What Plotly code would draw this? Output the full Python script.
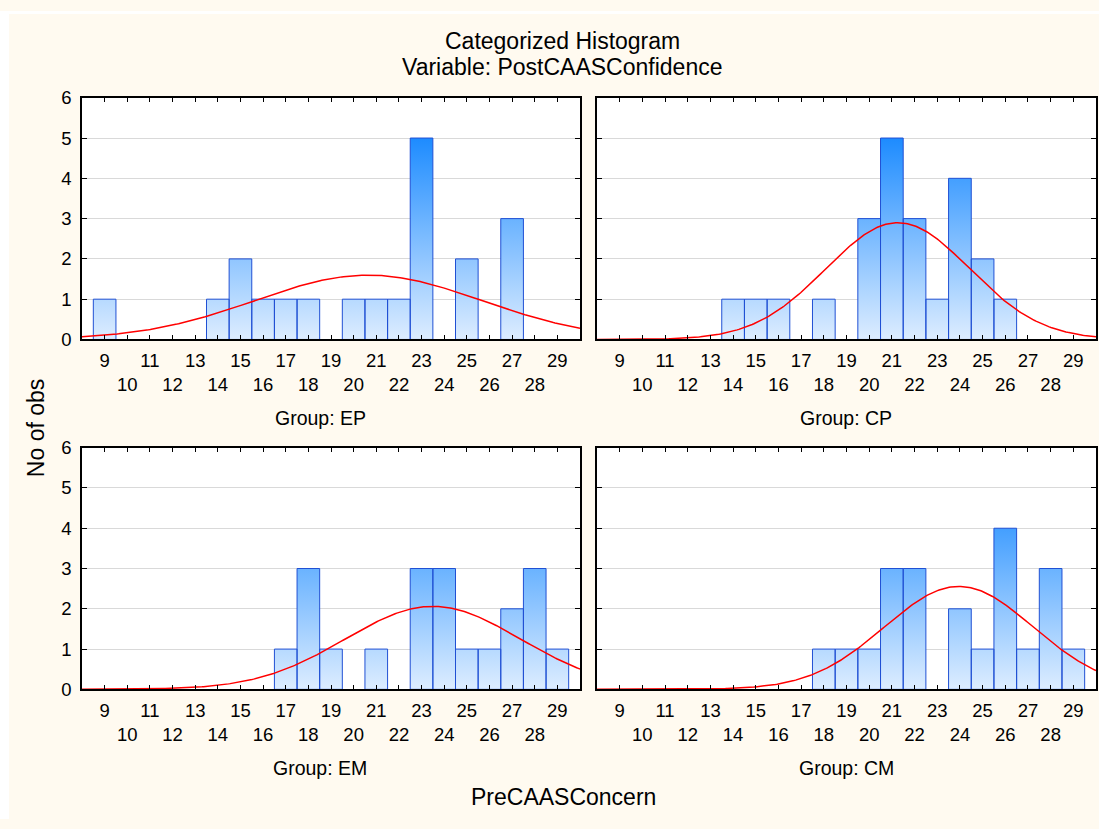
import numpy as np
import plotly.graph_objects as go

# ---------------- data ----------------
bins = list(range(9, 30))  # histogram bin centres (PreCAASConcern)
ep_counts = [1, 0, 0, 0, 0, 1, 2, 1, 1, 1, 0, 1, 1, 1, 5, 0, 2, 0, 3, 0, 0]
cp_counts = [0, 0, 0, 0, 0, 1, 1, 1, 0, 1, 0, 3, 5, 3, 1, 4, 2, 1, 0, 0, 0]
em_counts = [0, 0, 0, 0, 0, 0, 0, 0, 1, 3, 1, 0, 1, 0, 3, 3, 1, 1, 2, 3, 1]
cm_counts = [0, 0, 0, 0, 0, 0, 0, 0, 0, 1, 1, 1, 3, 3, 0, 2, 1, 4, 1, 3, 1]
group_names = ["EP", "CP", "EM", "CM"]
x_ticks = list(range(9, 30))
y_ticks = [0, 1, 2, 3, 4, 5, 6]

W, H = 1099, 829
def px(x):
    return x / W
def py(y):
    return 1 - y / H

BG = "#FFFAF0"
FONT = "Liberation Sans, Arial, sans-serif"

panels = [
    # counts, x-domain px, y-domain px (top, bottom), label pos
    (ep_counts, (82, 580), (89, 337), (320, 418), True),
    (cp_counts, (597, 1096), (89, 337), (846, 418), False),
    (em_counts, (82, 580), (448, 696), (320, 777), True),
    (cm_counts, (597, 1096), (448, 696), (846, 777), False),
]

ticktext = [str(v) if v % 2 == 1 else "<br>" + str(v) for v in x_ticks]

fig = go.Figure()
layout_axes = {}
annotations = []

for i, (counts, xd, yd, lab, show_y) in enumerate(panels):
    k = "" if i == 0 else str(i + 1)
    xa, ya = "x" + k, "y" + k

    # bars as closed polygons (gradient fill)
    bx, by = [], []
    for v, c in zip(bins, counts):
        if c > 0:
            bx += [v - 0.5, v - 0.5, v + 0.5, v + 0.5, v - 0.5, None]
            by += [0, c, c, 0, 0, None]
    fig.add_trace(go.Scatter(
        x=bx, y=by, xaxis=xa, yaxis=ya, mode="lines", fill="toself",
        line=dict(color="#2050D4", width=1),
        fillgradient=dict(type="vertical",
                          colorscale=[[0, "#E3F0FF"], [1, "#1E8CFF"]],
                          start=0, stop=5),
        hoverinfo="skip", showlegend=False))

    # fitted normal curve from the counts
    vals = np.repeat(bins, counts)
    n = len(vals)
    mu = vals.mean()
    sd = vals.std(ddof=1)
    xs = np.linspace(8, 30, 300)
    ys = n * 1.0 / (sd * np.sqrt(2 * np.pi)) * np.exp(-0.5 * ((xs - mu) / sd) ** 2)
    fig.add_trace(go.Scatter(
        x=xs, y=ys, xaxis=xa, yaxis=ya, mode="lines",
        line=dict(color="#FF0000", width=1.5), hoverinfo="skip",
        showlegend=False))

    layout_axes["xaxis" + k] = dict(
        domain=[px(xd[0]), px(xd[1])], range=[8, 30], anchor=ya,
        tickmode="array", tickvals=x_ticks, ticktext=ticktext,
        ticks="inside", ticklen=5, tickwidth=1, tickcolor="black",
        showline=True, linecolor="black", linewidth=1.5, mirror="ticks",
        showgrid=False, zeroline=False, tickangle=0,
        tickfont=dict(family=FONT, size=18.5, color="black"),
        ticklabelstandoff=4, fixedrange=True)
    layout_axes["yaxis" + k] = dict(
        domain=[py(yd[1]), py(yd[0])], range=[0, 6], anchor=xa,
        tickmode="array", tickvals=y_ticks,
        ticks="inside", ticklen=5, tickwidth=1, tickcolor="black",
        showline=True, linecolor="black", linewidth=1.5, mirror="ticks",
        showgrid=True, gridcolor="#D9D9D9", gridwidth=1, zeroline=False,
        showticklabels=show_y,
        tickfont=dict(family=FONT, size=18.5, color="black"),
        ticklabelstandoff=5, fixedrange=True)

    annotations.append(dict(
        text="Group: " + group_names[i], x=px(lab[0]), y=py(lab[1]),
        xref="paper", yref="paper", xanchor="center", yanchor="middle",
        showarrow=False, font=dict(family=FONT, size=19.5, color="black")))

annotations += [
    dict(text="Categorized Histogram", x=px(562), y=py(31), xref="paper",
         yref="paper", xanchor="center", yanchor="middle", showarrow=False,
         font=dict(family=FONT, size=23, color="black")),
    dict(text="Variable: PostCAASConfidence", x=px(562), y=py(57),
         xref="paper", yref="paper", xanchor="center", yanchor="middle",
         showarrow=False, font=dict(family=FONT, size=23, color="black")),
    dict(text="PreCAASConcern", x=px(563), y=py(806), xref="paper",
         yref="paper", xanchor="center", yanchor="middle", showarrow=False,
         font=dict(family=FONT, size=23, color="black")),
    dict(text="No of obs", x=px(36), y=py(428), xref="paper", yref="paper",
         xanchor="center", yanchor="middle", showarrow=False, textangle=-90,
         font=dict(family=FONT, size=23, color="black")),
]

shapes = [
    dict(type="rect", xref="paper", yref="paper", x0=0, x1=px(9), y0=0, y1=1,
         fillcolor="white", line=dict(width=0), layer="above"),
    dict(type="rect", xref="paper", yref="paper", x0=0, x1=1, y0=py(3), y1=1,
         fillcolor="white", line=dict(width=0), layer="above"),
]

fig.update_layout(
    width=W, height=H, margin=dict(l=0, r=0, t=0, b=0),
    paper_bgcolor=BG, plot_bgcolor="white", showlegend=False,
    font=dict(family=FONT, color="black"),
    annotations=annotations, shapes=shapes, **layout_axes)

fig.write_html("out.html")
